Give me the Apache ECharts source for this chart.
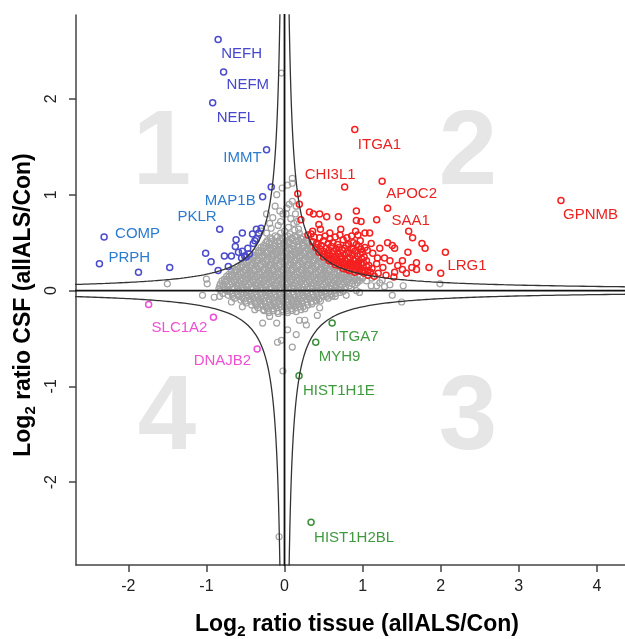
<!DOCTYPE html>
<html><head><meta charset="utf-8">
<script src="https://cdn.jsdelivr.net/npm/echarts@6/dist/echarts.min.js"></script>
<style>html,body{margin:0;padding:0;background:#fff}#c{width:625px;height:639px}</style>
</head><body><div id="c"></div>
<script>
// ---------- data ----------
const xTicks = [-2, -1, 0, 1, 2, 3, 4];
const yTicks = [-2, -1, 0, 1, 2];

// not significant proteins (grey) – dense core + sparse outliers
const greyPoints = [
[-0.12,0.57],[-0.05,0.60],[0.01,0.56],[0.07,0.59],[0.13,0.57],[0.19,0.60],[0.24,0.56],
[-0.22,0.52],[-0.16,0.54],[-0.09,0.51],[-0.03,0.55],[0.03,0.52],[0.09,0.54],[0.15,0.51],[0.21,0.54],[0.27,0.52],
[-0.27,0.47],[-0.20,0.49],[-0.14,0.46],[-0.07,0.49],[-0.01,0.47],[0.05,0.49],[0.11,0.46],[0.17,0.48],[0.23,0.47],[0.29,0.49],[0.34,0.46],
[-0.33,0.42],[-0.27,0.44],[-0.21,0.41],[-0.15,0.44],[-0.09,0.42],[-0.03,0.43],[0.03,0.41],[0.09,0.44],[0.15,0.42],[0.21,0.43],[0.27,0.41],[0.33,0.44],[0.38,0.42],
[-0.40,0.37],[-0.34,0.39],[-0.28,0.36],[-0.22,0.39],[-0.16,0.37],[-0.10,0.38],[-0.04,0.36],[0.02,0.39],[0.08,0.37],[0.14,0.38],[0.20,0.36],[0.26,0.39],[0.32,0.37],[0.38,0.38],[0.43,0.36],
[-0.47,0.32],[-0.41,0.34],[-0.35,0.31],[-0.29,0.34],[-0.23,0.32],[-0.17,0.33],[-0.11,0.31],[-0.05,0.34],[0.01,0.32],[0.07,0.33],[0.13,0.31],[0.19,0.34],[0.25,0.32],[0.31,0.33],[0.37,0.31],[0.43,0.34],[0.49,0.32],
[-0.55,0.27],[-0.49,0.29],[-0.43,0.26],[-0.37,0.29],[-0.31,0.27],[-0.25,0.28],[-0.19,0.26],[-0.13,0.29],[-0.07,0.27],[-0.01,0.28],[0.05,0.26],[0.11,0.29],[0.17,0.27],[0.23,0.28],[0.29,0.26],[0.35,0.29],[0.41,0.27],[0.47,0.28],[0.53,0.26],[0.59,0.28],
[-0.63,0.22],[-0.57,0.24],[-0.51,0.21],[-0.45,0.24],[-0.39,0.22],[-0.33,0.23],[-0.27,0.21],[-0.21,0.24],[-0.15,0.22],[-0.09,0.23],[-0.03,0.21],[0.03,0.24],[0.09,0.22],[0.15,0.23],[0.21,0.21],[0.27,0.24],[0.33,0.22],[0.39,0.23],[0.45,0.21],[0.51,0.24],[0.57,0.22],[0.63,0.23],[0.69,0.21],[0.75,0.22],
[-0.71,0.17],[-0.65,0.19],[-0.59,0.16],[-0.53,0.19],[-0.47,0.17],[-0.41,0.18],[-0.35,0.16],[-0.29,0.19],[-0.23,0.17],[-0.17,0.18],[-0.11,0.16],[-0.05,0.19],[0.01,0.17],[0.07,0.18],[0.13,0.16],[0.19,0.19],[0.25,0.17],[0.31,0.18],[0.37,0.16],[0.43,0.19],[0.49,0.17],[0.55,0.18],[0.61,0.16],[0.67,0.19],[0.73,0.17],[0.79,0.18],[0.86,0.16],
[-0.77,0.12],[-0.71,0.14],[-0.65,0.11],[-0.59,0.14],[-0.53,0.12],[-0.47,0.13],[-0.41,0.11],[-0.35,0.14],[-0.29,0.12],[-0.23,0.13],[-0.17,0.11],[-0.11,0.14],[-0.05,0.12],[0.01,0.13],[0.07,0.11],[0.13,0.14],[0.19,0.12],[0.25,0.13],[0.31,0.11],[0.37,0.14],[0.43,0.12],[0.49,0.13],[0.55,0.11],[0.61,0.14],[0.67,0.12],[0.73,0.13],[0.79,0.11],[0.85,0.13],[0.91,0.12],[0.97,0.14],
[-0.82,0.07],[-0.76,0.09],[-0.70,0.06],[-0.64,0.09],[-0.58,0.07],[-0.52,0.08],[-0.46,0.06],[-0.40,0.09],[-0.34,0.07],[-0.28,0.08],[-0.22,0.06],[-0.16,0.09],[-0.10,0.07],[-0.04,0.08],[0.02,0.06],[0.08,0.09],[0.14,0.07],[0.20,0.08],[0.26,0.06],[0.32,0.09],[0.38,0.07],[0.44,0.08],[0.50,0.06],[0.56,0.09],[0.62,0.07],[0.68,0.08],[0.74,0.06],[0.80,0.09],[0.87,0.07],[0.93,0.08],
[-0.84,0.02],[-0.78,0.04],[-0.72,0.01],[-0.66,0.04],[-0.60,0.02],[-0.54,0.03],[-0.48,0.01],[-0.42,0.04],[-0.36,0.02],[-0.30,0.03],[-0.24,0.01],[-0.18,0.04],[-0.12,0.02],[-0.06,0.03],[0.00,0.01],[0.06,0.04],[0.12,0.02],[0.18,0.03],[0.24,0.01],[0.30,0.04],[0.36,0.02],[0.42,0.03],[0.48,0.01],[0.54,0.04],[0.60,0.02],[0.66,0.03],[0.72,0.01],[0.78,0.04],[0.85,0.02],
[-0.79,-0.03],[-0.73,-0.01],[-0.67,-0.04],[-0.61,-0.01],[-0.55,-0.03],[-0.49,-0.02],[-0.43,-0.04],[-0.37,-0.01],[-0.31,-0.03],[-0.25,-0.02],[-0.19,-0.04],[-0.13,-0.01],[-0.07,-0.03],[-0.01,-0.02],[0.05,-0.04],[0.11,-0.01],[0.17,-0.03],[0.23,-0.02],[0.29,-0.04],[0.35,-0.01],[0.41,-0.03],[0.47,-0.02],[0.53,-0.04],[0.59,-0.01],[0.65,-0.03],[0.71,-0.02],
[-0.64,-0.08],[-0.58,-0.06],[-0.52,-0.09],[-0.46,-0.06],[-0.40,-0.08],[-0.34,-0.07],[-0.28,-0.09],[-0.22,-0.06],[-0.16,-0.08],[-0.10,-0.07],[-0.04,-0.09],[0.02,-0.06],[0.08,-0.08],[0.14,-0.07],[0.20,-0.09],[0.26,-0.06],[0.32,-0.08],[0.38,-0.07],[0.44,-0.09],[0.50,-0.06],[0.56,-0.08],
[-0.49,-0.13],[-0.43,-0.11],[-0.37,-0.14],[-0.31,-0.11],[-0.25,-0.13],[-0.19,-0.12],[-0.13,-0.14],[-0.07,-0.11],[-0.01,-0.13],[0.05,-0.12],[0.11,-0.14],[0.17,-0.11],[0.23,-0.13],[0.29,-0.12],[0.35,-0.14],[0.41,-0.11],
[-0.34,-0.18],[-0.28,-0.16],[-0.22,-0.19],[-0.16,-0.16],[-0.10,-0.18],[-0.04,-0.17],[0.02,-0.19],[0.08,-0.16],[0.14,-0.18],[0.20,-0.17],[0.26,-0.19],
[-0.20,-0.23],[-0.14,-0.21],[-0.08,-0.24],[-0.02,-0.22],[0.04,-0.23],[0.10,-0.21],
// interleaved core (densest part of the cloud)
[-0.18,0.55],[-0.09,0.56],[-0.02,0.54],[0.04,0.57],[0.10,0.55],[0.16,0.56],[0.22,0.54],
[-0.24,0.50],[-0.17,0.51],[-0.12,0.49],[-0.06,0.52],[0.00,0.50],[0.06,0.51],[0.12,0.49],[0.18,0.52],[0.24,0.50],[0.30,0.51],
[-0.30,0.45],[-0.24,0.46],[-0.18,0.44],[-0.12,0.47],[-0.06,0.45],[0.00,0.46],[0.06,0.44],[0.12,0.47],[0.18,0.45],[0.24,0.46],[0.30,0.44],[0.36,0.45],
[-0.37,0.40],[-0.30,0.41],[-0.24,0.39],[-0.18,0.42],[-0.12,0.40],[-0.06,0.41],[0.00,0.39],[0.06,0.42],[0.12,0.40],[0.18,0.41],[0.24,0.39],[0.30,0.42],[0.36,0.40],[0.41,0.41],
[-0.44,0.35],[-0.38,0.36],[-0.32,0.34],[-0.26,0.37],[-0.20,0.35],[-0.14,0.36],[-0.08,0.34],[-0.02,0.37],[0.04,0.35],[0.10,0.36],[0.16,0.34],[0.22,0.37],[0.28,0.35],[0.34,0.36],[0.40,0.34],[0.46,0.35],
[-0.52,0.30],[-0.46,0.31],[-0.40,0.29],[-0.34,0.32],[-0.28,0.30],[-0.22,0.31],[-0.16,0.29],[-0.10,0.32],[-0.04,0.30],[0.02,0.31],[0.08,0.29],[0.14,0.32],[0.20,0.30],[0.26,0.31],[0.32,0.29],[0.38,0.32],[0.44,0.30],[0.50,0.31],[0.55,0.29],
[-0.60,0.25],[-0.54,0.26],[-0.48,0.24],[-0.42,0.27],[-0.36,0.25],[-0.30,0.26],[-0.24,0.24],[-0.18,0.27],[-0.12,0.25],[-0.06,0.26],[0.00,0.24],[0.06,0.27],[0.12,0.25],[0.18,0.26],[0.24,0.24],[0.30,0.27],[0.36,0.25],[0.42,0.26],[0.48,0.24],[0.54,0.27],[0.60,0.25],[0.66,0.24],
[-0.68,0.20],[-0.62,0.21],[-0.56,0.19],[-0.50,0.22],[-0.44,0.20],[-0.38,0.21],[-0.32,0.19],[-0.26,0.22],[-0.20,0.20],[-0.14,0.21],[-0.08,0.19],[-0.02,0.22],[0.04,0.20],[0.10,0.21],[0.16,0.19],[0.22,0.22],[0.28,0.20],[0.34,0.21],[0.40,0.19],[0.46,0.22],[0.52,0.20],[0.58,0.21],[0.64,0.19],[0.70,0.20],[0.76,0.19],
[-0.74,0.15],[-0.68,0.16],[-0.62,0.14],[-0.56,0.17],[-0.50,0.15],[-0.44,0.16],[-0.38,0.14],[-0.32,0.17],[-0.26,0.15],[-0.20,0.16],[-0.14,0.14],[-0.08,0.17],[-0.02,0.15],[0.04,0.16],[0.10,0.14],[0.16,0.17],[0.22,0.15],[0.28,0.16],[0.34,0.14],[0.40,0.17],[0.46,0.15],[0.52,0.16],[0.58,0.14],[0.64,0.17],[0.70,0.15],[0.76,0.16],[0.82,0.14],[0.89,0.15],
[-0.80,0.10],[-0.74,0.11],[-0.68,0.09],[-0.62,0.12],[-0.56,0.10],[-0.50,0.11],[-0.44,0.09],[-0.38,0.12],[-0.32,0.10],[-0.26,0.11],[-0.20,0.09],[-0.14,0.12],[-0.08,0.10],[-0.02,0.11],[0.04,0.09],[0.10,0.12],[0.16,0.10],[0.22,0.11],[0.28,0.09],[0.34,0.12],[0.40,0.10],[0.46,0.11],[0.52,0.09],[0.58,0.12],[0.64,0.10],[0.70,0.11],[0.76,0.09],[0.82,0.12],[0.88,0.10],[0.94,0.11],
[-0.83,0.05],[-0.79,0.06],[-0.73,0.04],[-0.67,0.07],[-0.61,0.05],[-0.55,0.06],[-0.49,0.04],[-0.43,0.07],[-0.37,0.05],[-0.31,0.06],[-0.25,0.04],[-0.19,0.07],[-0.13,0.05],[-0.07,0.06],[-0.01,0.04],[0.05,0.07],[0.11,0.05],[0.17,0.06],[0.23,0.04],[0.29,0.07],[0.35,0.05],[0.41,0.06],[0.47,0.04],[0.53,0.07],[0.59,0.05],[0.65,0.06],[0.71,0.04],[0.77,0.07],[0.83,0.05],[0.90,0.06],
[-0.82,0.00],[-0.76,0.01],[-0.70,-0.01],[-0.64,0.02],[-0.58,0.00],[-0.52,0.01],[-0.46,-0.01],[-0.40,0.02],[-0.34,0.00],[-0.28,0.01],[-0.22,-0.01],[-0.16,0.02],[-0.10,0.00],[-0.04,0.01],[0.03,-0.01],[0.09,0.02],[0.15,0.00],[0.21,0.01],[0.27,-0.01],[0.33,0.02],[0.39,0.00],[0.45,0.01],[0.51,-0.01],[0.57,0.02],[0.63,0.00],[0.69,0.01],[0.75,-0.01],
[-0.72,-0.05],[-0.66,-0.06],[-0.60,-0.04],[-0.54,-0.07],[-0.48,-0.05],[-0.42,-0.06],[-0.36,-0.04],[-0.30,-0.07],[-0.24,-0.05],[-0.18,-0.06],[-0.12,-0.04],[-0.06,-0.07],[0.00,-0.05],[0.06,-0.06],[0.12,-0.04],[0.18,-0.07],[0.24,-0.05],[0.30,-0.06],[0.36,-0.04],[0.42,-0.07],[0.48,-0.05],[0.54,-0.06],[0.60,-0.04],[0.65,-0.06],
[-0.56,-0.10],[-0.50,-0.11],[-0.44,-0.09],[-0.38,-0.12],[-0.32,-0.10],[-0.26,-0.11],[-0.20,-0.09],[-0.14,-0.12],[-0.08,-0.10],[-0.02,-0.11],[0.04,-0.09],[0.10,-0.12],[0.16,-0.10],[0.22,-0.11],[0.28,-0.09],[0.34,-0.12],[0.40,-0.10],[0.46,-0.11],
[-0.42,-0.15],[-0.36,-0.16],[-0.30,-0.14],[-0.24,-0.17],[-0.18,-0.15],[-0.12,-0.16],[-0.06,-0.14],[0.00,-0.17],[0.06,-0.15],[0.12,-0.16],[0.18,-0.14],[0.24,-0.17],[0.30,-0.15],
[-0.27,-0.20],[-0.21,-0.21],[-0.15,-0.19],[-0.09,-0.22],[-0.03,-0.20],[0.03,-0.21],[0.09,-0.19],[0.15,-0.22],[0.21,-0.20],
// sparse outliers
[-0.04,2.27],[-0.07,-2.57],[-0.02,-0.84],[0.10,-0.59],[-0.09,-0.54],[-0.04,-0.52],[0.04,-0.41],[-0.28,-0.34],[-0.10,-0.34],[0.19,-0.31],[0.15,-0.46],[0.26,-0.31],[0.28,-0.36],[0.42,-0.26],[0.45,-0.18],[0.15,-0.14],[-0.19,-0.27],[-0.26,-0.21],[-0.38,-0.20],[-0.54,-0.17],[-0.68,-0.12],[-0.83,-0.06],[-1.05,-0.05],[-1.00,0.12],[-0.99,0.07],[-1.50,0.07],[-0.90,-0.07],
[0.96,0.10],[1.18,0.05],[1.28,0.04],[1.35,0.06],[0.92,0.00],[1.38,-0.05],[1.11,0.05],[1.22,0.08],[1.52,0.05],[1.99,0.07],[1.50,-0.12],[0.96,-0.02],[1.00,0.13],[0.79,-0.05],[0.61,-0.06],[1.05,0.10],[1.12,0.13],[1.25,0.11],
[0.10,1.12],[-0.03,1.07],[0.04,1.10],[-0.10,1.00],[0.06,0.90],[-0.02,0.80],[-0.19,0.70],[-0.23,0.80],[-0.30,0.62],[-0.15,0.76],[-0.17,0.65],[-0.23,0.60],[-0.06,0.83],[0.02,0.80],[0.10,0.93],[0.10,1.17],
[0.12,0.70],[0.05,0.66],[-0.08,0.68],[0.18,0.64],[-0.12,0.88],[0.14,0.80],
[0.08,0.75],[0.16,0.72],[-0.05,0.72],[0.00,0.62],[0.13,0.63],[0.03,0.86],[0.15,0.88]
];

// quadrant 1 (blue): [x, y, label]
const bluePoints = [
[-0.85,2.62,'NEFH'],[-0.78,2.28,'NEFM'],[-0.92,1.96,'NEFL'],[-0.23,1.47,'IMMT'],[-0.28,0.98,'MAP1B'],[-0.83,0.64,'PKLR'],[-2.31,0.56,'COMP'],[-2.37,0.28,'PRPH'],
[-0.17,1.08],[-1.87,0.19],[-1.47,0.24],[-1.01,0.39],[-0.94,0.30],[-0.85,0.21],[-0.77,0.36],[-0.72,0.25],[-0.68,0.36],[-0.63,0.46],[-0.62,0.53],[-0.54,0.60],[-0.54,0.41],[-0.47,0.44],[-0.41,0.59],[-0.36,0.64],[-0.30,0.65],[-0.38,0.52],[-0.59,0.40],[-0.51,0.36],[-0.45,0.38],[-0.55,0.34],[-0.49,0.35],[-0.40,0.49],[-0.36,0.54],[-0.33,0.60]
];

// quadrant 2 (red)
const redPoints = [
[0.90,1.68,'ITGA1'],[0.77,1.08,'CHI3L1'],[1.25,1.14,'APOC2'],[1.32,0.86,'SAA1'],[3.54,0.94,'GPNMB'],[2.06,0.40,'LRG1'],
[1.18,0.74],[2.00,0.18],[1.85,0.24],[1.76,0.49],[1.80,0.44],[1.64,0.55],[1.59,0.62],[1.58,0.40],[1.69,0.29],[1.63,0.24],[1.69,0.22],[1.51,0.31],[1.51,0.22],[1.45,0.26],[1.56,0.18],[1.41,0.19],[1.41,0.44],[1.38,0.47],[1.32,0.50],[1.22,0.44],[1.11,0.49],[1.13,0.39],[1.19,0.34],[1.28,0.34],[1.35,0.31],[1.18,0.28],[1.26,0.24],
[0.17,1.01],[0.19,0.90],[0.21,0.74],[0.32,0.82],[0.37,0.80],[0.45,0.80],[0.54,0.77],[0.69,0.77],[0.92,0.83],[0.92,0.73],[0.98,0.72],[0.44,0.69],[0.46,0.64],[0.72,0.64],[0.91,0.62],[1.03,0.60],[1.09,0.60],[0.58,0.60],[0.36,0.62],[0.94,0.58],[0.30,0.58],[0.34,0.59],
[0.36,0.51],[0.41,0.49],[0.50,0.52],[0.62,0.50],[0.75,0.53],[0.88,0.50],[0.97,0.52],
[0.40,0.45],[0.47,0.47],[0.53,0.44],[0.60,0.46],[0.70,0.45],[0.79,0.47],[0.86,0.44],[0.95,0.46],[1.03,0.45],
[0.44,0.40],[0.49,0.41],[0.55,0.39],[0.63,0.41],[0.68,0.40],[0.74,0.42],[0.82,0.39],[0.90,0.41],[1.00,0.40],[1.06,0.42],
[0.50,0.35],[0.55,0.36],[0.60,0.34],[0.66,0.36],[0.71,0.35],[0.77,0.37],[0.84,0.34],[0.93,0.36],[1.02,0.35],
[0.57,0.31],[0.62,0.30],[0.67,0.32],[0.72,0.30],[0.78,0.31],[0.83,0.29],[0.88,0.32],[0.95,0.30],[1.05,0.31],
[0.65,0.27],[0.70,0.26],[0.76,0.28],[0.81,0.26],[0.87,0.27],[0.92,0.25],[0.98,0.28],[1.08,0.26],
[0.75,0.23],[0.80,0.22],[0.86,0.24],[0.91,0.22],[0.97,0.23],[1.03,0.21],[1.12,0.23],
[0.90,0.19],[0.96,0.20],[1.02,0.18],[1.10,0.19],[1.20,0.18],
[1.07,0.16],[1.15,0.15],[1.30,0.16],[1.40,0.14],
[0.38,0.56],[0.45,0.55],[0.52,0.57],[0.58,0.54],[0.65,0.56],[0.71,0.58],[0.80,0.55],[0.86,0.57],
[0.43,0.48],[0.56,0.49],[0.68,0.48],[0.82,0.48],[0.92,0.48],
[0.46,0.43],[0.57,0.42],[0.66,0.43],[0.77,0.44],[0.88,0.43],[0.98,0.43],
[0.52,0.38],[0.58,0.37],[0.69,0.38],[0.79,0.39],[0.87,0.37],[0.97,0.38],
[0.59,0.33],[0.64,0.33],[0.74,0.33],[0.81,0.33],[0.91,0.33],[0.99,0.33],
[0.68,0.29],[0.74,0.29],[0.85,0.29],[0.92,0.28],[1.01,0.29],
[0.78,0.25],[0.84,0.26],[0.89,0.25],[0.95,0.26],[1.05,0.25],
[0.83,0.21],[0.94,0.21],[0.99,0.20],[1.07,0.21]
];

// quadrant 3 (green)
const greenPoints = [
[0.61,-0.34,'ITGA7'],[0.40,-0.54,'MYH9'],[0.186,-0.89,'HIST1H1E'],[0.34,-2.42,'HIST1H2BL']
];

// quadrant 4 (magenta)
const pinkPoints = [
[-1.74,-0.145],[-0.91,-0.28,'SLC1A2'],[-0.35,-0.61,'DNAJB2']
];

// hyperbolic significance threshold |x*y| = c
const curveC = 0.17;

// ---------- styling ----------
const FONT = 'Liberation Sans, Arial, Helvetica, sans-serif';
// label placement relative to its point: [align, dx, dy, color]
const labelPlacement = {
  NEFH:['left',3,14,'#4646cf'], NEFM:['left',3,13,'#4646cf'], NEFL:['left',4,15,'#4646cf'],
  IMMT:['right',-5,8,'#2b7bcf'], MAP1B:['right',-7,4,'#2b7bcf'], PKLR:['right',-3,-12,'#2b7bcf'],
  COMP:['left',11,-3,'#2b7bcf'], PRPH:['left',9,-6,'#2b7bcf'],
  CHI3L1:['right',11,-12,'#ec2222'], ITGA1:['left',3,15,'#ec2222'], APOC2:['left',4,13,'#ec2222'],
  SAA1:['left',4,13,'#ec2222'], GPNMB:['left',2,14,'#ec2222'], LRG1:['left',2,14,'#ec2222'],
  ITGA7:['left',3,14,'#3f9a3f'], MYH9:['left',3,15,'#3f9a3f'], HIST1H1E:['left',4,15,'#3f9a3f'], HIST1H2BL:['left',3,15,'#3f9a3f'],
  SLC1A2:['right',-6,11,'#f04fd2'], DNAJB2:['right',-6,12,'#f04fd2']
};

function toItems(points) {
  return points.map(p => {
    const item = { value: [p[0], p[1]] };
    if (p[2]) {
      const s = labelPlacement[p[2]];
      item.name = p[2];
      item.label = {
        show: true, formatter: p[2], position: 'inside', align: s[0], verticalAlign: 'middle',
        offset: [s[1], s[2]], color: s[3], fontSize: 15, fontFamily: FONT
      };
    }
    return item;
  });
}
function scatter(points, color, bw, size, z) {
  return {
    type: 'scatter', data: toItems(points), symbol: 'circle', symbolSize: size, z: z,
    itemStyle: { color: 'rgba(0,0,0,0)', borderColor: color, borderWidth: bw, opacity: 1 },
    emphasis: { disabled: true }, silent: true, animation: false, large: false
  };
}

// curve branches
const X_MIN = -2.67, X_MAX = 4.36, Y_MIN = -2.865, Y_MAX = 2.876;
function branch(sx, sy) {
  const pts = [];
  const xStart = curveC / 2.95, xEnd = 4.5;
  const n = 240;
  for (let i = 0; i <= n; i++) {
    const x = xStart * Math.pow(xEnd / xStart, i / n);
    pts.push([sx * x, sy * curveC / x]);
  }
  return pts;
}
function line(data, color, width, z) {
  return { type: 'line', data: data, symbol: 'none', showSymbol: false, silent: true, animation: false,
           lineStyle: { color: color, width: width }, z: z, clip: true, emphasis: { disabled: true } };
}

const chart = echarts.init(document.getElementById('c'), null, { renderer: 'canvas' });
const titleRich = {
  m: { fontSize: 23, fontWeight: 'bold', fontFamily: FONT, color: '#111' },
  s: { fontSize: 15, fontWeight: 'bold', fontFamily: FONT, color: '#111', padding: [13, 0, 0, 0] }
};
const quadStyle = { fontSize: 105, fontWeight: 'bold', fontFamily: FONT, fill: '#e6e6e6', align: 'center', verticalAlign: 'middle' };

chart.setOption({
  animation: false,
  backgroundColor: '#fff',
  grid: { left: 76, top: 15, right: 0, bottom: 74, containLabel: false },
  xAxis: {
    type: 'value', min: X_MIN, max: X_MAX,
    axisLine: { show: true, onZero: false, lineStyle: { color: '#444', width: 1.5 } },
    axisTick: { show: true, length: 7, customValues: xTicks, lineStyle: { color: '#444', width: 1.5 } },
    axisLabel: { customValues: xTicks, fontSize: 16, color: '#222', margin: 14, fontFamily: FONT },
    splitLine: { show: false }
  },
  yAxis: {
    type: 'value', min: Y_MIN, max: Y_MAX,
    axisLine: { show: true, onZero: false, lineStyle: { color: '#444', width: 1.5 } },
    axisTick: { show: true, length: 7, customValues: yTicks, lineStyle: { color: '#444', width: 1.5 } },
    axisLabel: { customValues: yTicks, rotate: 90, fontSize: 16, color: '#222', margin: 16, fontFamily: FONT },
    splitLine: { show: false }
  },
  graphic: [
    { type: 'text', x: 162, y: 155, z: 0, silent: true, style: Object.assign({ text: '1' }, quadStyle) },
    { type: 'text', x: 468, y: 155, z: 0, silent: true, style: Object.assign({ text: '2' }, quadStyle) },
    { type: 'text', x: 468, y: 420, z: 0, silent: true, style: Object.assign({ text: '3' }, quadStyle) },
    { type: 'text', x: 167, y: 420, z: 0, silent: true, style: Object.assign({ text: '4' }, quadStyle) },
    { type: 'text', x: 357, y: 625, silent: true,
      style: { text: '{m|Log}{s|2}{m| ratio tissue (allALS/Con)}', rich: titleRich, align: 'center', verticalAlign: 'middle' } },
    { type: 'text', x: 24, y: 305, rotation: Math.PI / 2, silent: true,
      style: { text: '{m|Log}{s|2}{m| ratio CSF (allALS/Con)}', rich: titleRich, align: 'center', verticalAlign: 'middle' } }
  ],
  series: [
    scatter(greyPoints, '#a3a3a3', 1.2, 6, 2),
    scatter(bluePoints, '#4b4bcc', 1.5, 6, 3),
    scatter(redPoints, '#f42020', 1.5, 6, 3),
    scatter(greenPoints, '#3d8f3d', 1.5, 6, 3),
    scatter(pinkPoints, '#ec4fd6', 1.5, 6, 3),
    line([[0, -3], [0, 3]], '#111', 1.8, 5),
    line([[-3, 0], [5, 0]], '#111', 1.8, 5),
    line(branch(1, 1), '#333', 1.3, 5),
    line(branch(-1, 1), '#333', 1.3, 5),
    line(branch(1, -1), '#333', 1.3, 5),
    line(branch(-1, -1), '#333', 1.3, 5)
  ]
});
</script></body></html>
